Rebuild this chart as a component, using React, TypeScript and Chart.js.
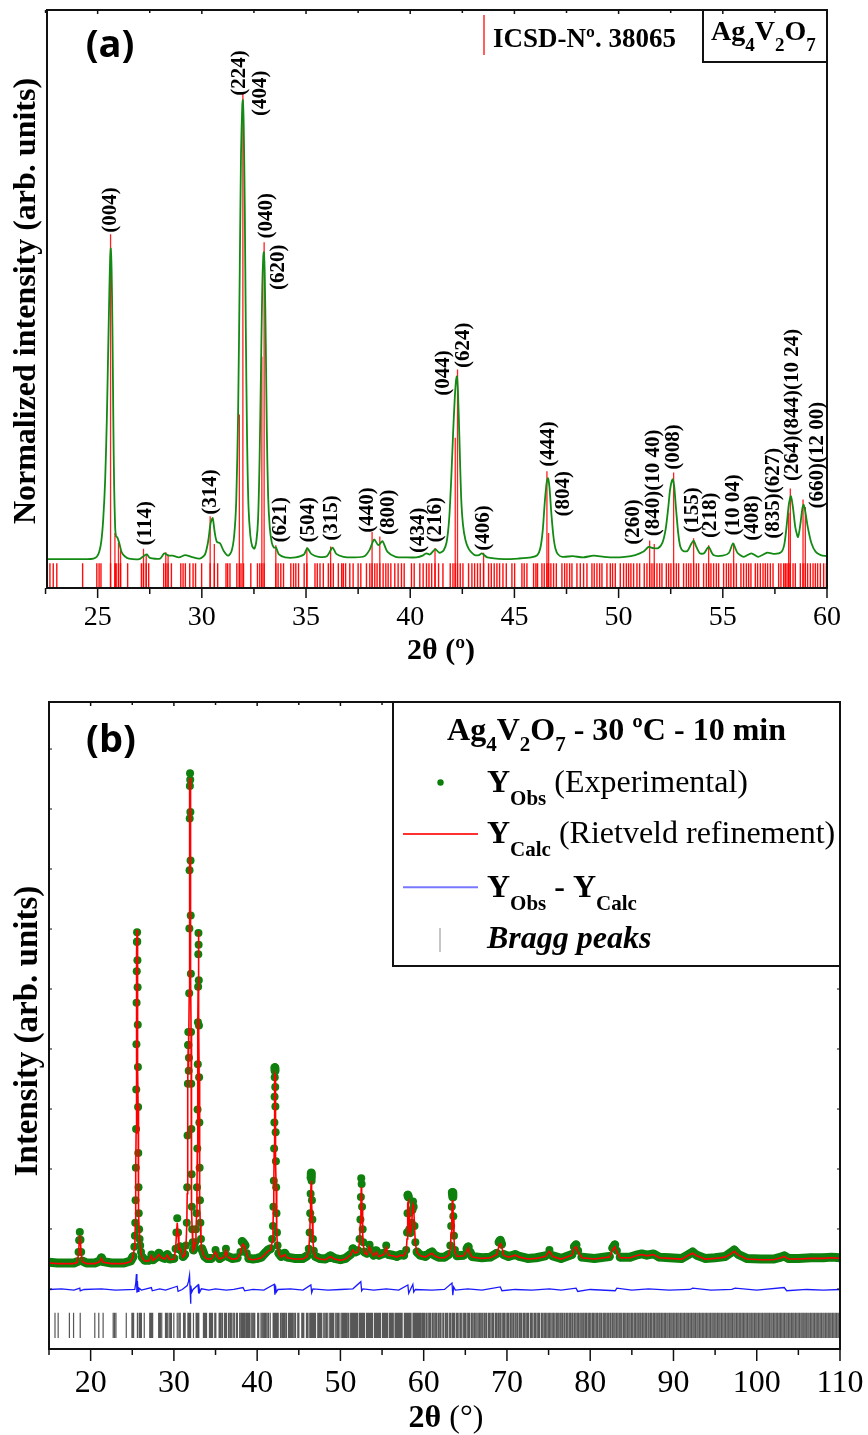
import React, { useEffect, useRef } from 'react';
import { Chart, registerables } from 'chart.js';
Chart.register(...registerables);

const SERIF = '"Liberation Serif", "Times New Roman", serif';
const SANS = '"Open Sans", "Liberation Sans", sans-serif';

// ---------------- Panel (a) data ----------------
const xRangeA = [22.57, 60];
const ticksA = [25, 30, 35, 40, 45, 50, 55, 60];
const minorTicksA = [22.5, 27.5, 32.5, 37.5, 42.5, 47.5, 52.5, 57.5];

// measured (normalized) pattern: [2theta, intensity]
const patternA: [number, number][] = [
  [22.57, 5.0], [23.5, 5.0], [24.5, 5.0], [24.8, 5.1], [24.96, 5.4], [25.08, 6.3], [25.18, 8.2], [25.27, 12],
  [25.36, 18.6], [25.44, 29], [25.5, 40], [25.56, 51], [25.6, 57], [25.63, 58.7], [25.67, 55], [25.71, 45],
  [25.75, 30], [25.79, 18], [25.84, 10.5], [25.88, 9.0], [25.95, 8.7], [26.05, 7.6], [26.15, 6.2],
  [26.3, 5.5], [26.5, 5.1], [27.0, 5.0], [27.2, 5.5], [27.36, 5.8], [27.5, 5.2], [28.0, 5.1], [28.2, 6.0],
  [28.4, 5.6], [28.6, 5.6], [28.9, 5.3], [29.2, 5.7], [29.5, 5.4], [29.9, 5.1], [30.15, 5.8], [30.3, 8.0],
  [30.42, 11.2], [30.52, 12.1], [30.62, 9.6], [30.72, 8.0], [30.88, 7.7], [31.05, 6.4], [31.26, 5.6],
  [31.42, 6.3], [31.55, 9], [31.65, 15], [31.74, 30], [31.82, 55], [31.88, 75], [31.94, 83.5], [31.97, 84.4],
  [32.01, 80], [32.06, 66], [32.11, 45], [32.17, 26], [32.24, 14], [32.33, 9], [32.42, 7.2], [32.52, 6.8],
  [32.62, 8.2], [32.7, 12], [32.77, 22], [32.84, 38], [32.9, 52], [32.95, 57.5], [32.98, 58.1],
  [33.02, 54], [33.07, 42], [33.12, 27], [33.18, 16], [33.26, 10.5], [33.36, 7.8], [33.46, 7.0],
  [33.56, 7.0], [33.7, 5.8], [34.0, 5.3], [34.5, 5.3], [34.9, 5.8], [35.06, 6.9], [35.25, 5.9],
  [35.6, 5.4], [36.0, 5.5], [36.27, 7.0], [36.45, 5.9], [36.8, 5.4], [37.3, 5.3], [37.8, 5.5],
  [38.05, 6.6], [38.27, 8.4], [38.47, 7.4], [38.67, 8.1], [38.9, 6.3], [39.3, 5.4], [39.8, 5.3],
  [40.3, 5.3], [40.6, 5.6], [40.77, 6.0], [40.95, 5.8], [41.2, 6.7], [41.4, 6.1], [41.6, 6.5],
  [41.75, 8], [41.87, 12], [41.97, 19], [42.06, 27], [42.14, 33], [42.2, 36], [42.24, 36.6], [42.29, 34],
  [42.36, 26], [42.44, 16], [42.53, 11], [42.65, 8.3], [42.8, 6.8], [42.95, 6.1], [43.1, 5.7],
  [43.3, 5.7], [43.44, 6.0], [43.7, 5.3], [44.5, 5.0], [45.2, 5.1], [45.8, 5.3], [46.1, 5.7],
  [46.25, 7], [46.36, 10], [46.46, 15], [46.55, 18.3], [46.61, 19.0], [46.68, 17.5], [46.77, 13],
  [46.87, 9], [46.97, 6.8], [47.1, 5.8], [47.3, 5.4], [47.8, 5.5], [48.3, 5.3], [48.8, 5.6], [49.3, 5.4],
  [49.8, 5.3], [50.3, 5.4], [50.8, 5.7], [51.2, 6.3], [51.44, 7.1], [51.66, 6.9], [51.9, 6.9],
  [52.1, 7.8], [52.25, 10], [52.37, 13.5], [52.47, 17], [52.55, 18.5], [52.6, 18.8], [52.67, 17.5],
  [52.76, 13.5], [52.86, 9.5], [52.96, 7.2], [53.1, 6.4], [53.3, 6.4], [53.48, 7.6], [53.6, 8.2],
  [53.72, 7.2], [53.9, 6.0], [54.1, 6.0], [54.32, 7.1], [54.55, 5.7], [55.0, 5.6], [55.3, 6.1],
  [55.49, 7.7], [55.7, 6.1], [56.0, 5.4], [56.37, 6.0], [56.7, 5.4], [57.12, 6.1], [57.5, 5.9],
  [57.8, 6.2], [57.95, 7.5], [58.07, 11], [58.17, 14.5], [58.27, 15.9], [58.37, 13.8], [58.48, 10.5],
  [58.61, 8.8], [58.72, 11], [58.82, 13.8], [58.88, 14.4], [58.96, 13.2], [59.08, 10.5], [59.25, 7.8],
  [59.45, 6.3], [59.7, 5.7], [60.0, 5.5],
];

// reflection positions (ICSD 38065) used for sticks (a) and Bragg marks (b)
const reflections = [
  15.72, 16.10, 17.45, 17.95, 18.75, 20.50, 20.98, 21.50, 22.71, 22.87, 23.04, 24.28, 24.96, 25.07,
  25.16, 25.62, 25.83, 25.89, 26.00, 26.10, 26.44, 27.10, 27.20, 27.33, 27.45, 28.17, 28.27, 28.38,
  28.54, 28.99, 29.10, 29.21, 29.42, 29.58, 29.70, 29.99, 30.40, 30.60, 30.76, 31.16, 31.24, 31.35,
  31.68, 31.80, 31.88, 32.00, 32.35, 32.67, 32.78, 32.88, 32.99, 33.55, 33.66, 33.79, 33.92, 34.27,
  34.40, 34.51, 34.64, 34.91, 35.04, 35.43, 35.54, 35.67, 35.83, 36.07, 36.18, 36.31, 36.55, 36.71,
  36.79, 36.90, 37.10, 37.26, 37.50, 37.63, 37.90, 38.06, 38.17, 38.30, 38.41, 38.54, 38.70, 38.83,
  38.94, 39.07, 39.26, 39.42, 39.58, 39.71, 40.06, 40.19, 40.46, 40.62, 40.78, 40.90, 41.03, 41.19,
  41.36, 41.57, 41.92, 42.05, 42.16, 42.27, 42.40, 42.53, 42.80, 42.96, 43.09, 43.23, 43.36, 43.52,
  43.76, 43.89, 44.03, 44.16, 44.29, 44.45, 44.61, 44.88, 45.01, 45.36, 45.47, 45.60, 45.92, 46.03,
  46.11, 46.32, 46.43, 46.56, 46.64, 46.75, 46.88, 47.01, 47.28, 47.41, 47.52, 47.65, 47.76, 48.00,
  48.16, 48.32, 48.48, 48.72, 48.83, 48.96, 49.09, 49.20, 49.44, 49.60, 49.71, 49.84, 50.08, 50.24,
  50.37, 50.48, 50.59, 50.72, 50.88, 51.01, 51.23, 51.36, 51.49, 51.60, 51.71, 51.84, 51.97, 52.08,
  52.29, 52.40, 52.51, 52.64, 52.77, 52.88, 53.12, 53.25, 53.36, 53.47, 53.60, 53.73, 53.84, 54.08,
  54.21, 54.32, 54.43, 54.56, 54.69, 54.80, 55.04, 55.17, 55.28, 55.39, 55.52, 55.65, 55.87, 56.00,
  56.13, 56.24, 56.35, 56.56, 56.67, 56.80, 56.93, 57.04, 57.15, 57.28, 57.41, 57.68, 57.79, 57.92,
  58.00, 58.08, 58.16, 58.24, 58.37, 58.48, 58.72, 58.85, 58.96, 59.07, 59.20, 59.33, 59.44, 59.55,
  59.68, 59.84, 59.97, 60.10, 60.28, 60.37, 60.55, 60.71, 60.82, 61.02, 61.15, 61.33, 61.48, 61.60,
  61.79, 61.95, 62.08, 62.30, 62.41, 62.62, 62.77, 62.90, 63.12, 63.25, 63.44, 63.58, 63.70, 63.91,
  64.05, 64.22, 64.40, 64.52, 64.73, 64.88, 65.01, 65.20, 65.36, 65.49, 65.70, 65.84, 66.02, 66.15,
  66.31, 66.50, 66.66, 66.80, 66.97, 67.12, 67.30, 67.46, 67.58, 67.79, 67.93, 68.10, 68.27, 68.40,
  68.61, 68.75, 68.92, 69.05, 69.21, 69.40, 69.56, 69.70, 69.88, 70.05, 70.19, 70.38, 70.52, 70.70,
  70.83, 71.01, 71.18, 71.32, 71.51, 71.66, 71.80, 72.00, 72.14, 72.31, 72.47, 72.60, 72.82, 72.95,
  73.11, 73.30, 73.44, 73.62, 73.78, 73.90, 74.12, 74.25, 74.43, 74.58, 74.72, 74.91, 75.06, 75.20,
  75.39, 75.55, 75.68, 75.88, 76.02, 76.17, 76.35, 76.50, 76.66, 76.84, 76.97, 77.15, 77.30, 77.48,
  77.63, 77.80, 77.94, 78.12, 78.28, 78.45, 78.60, 78.77, 78.93, 79.10, 79.25, 79.42, 79.57, 79.75,
  79.90, 80.06, 80.24, 80.38, 80.55, 80.72, 80.87, 81.05, 81.20, 81.36, 81.55, 81.70, 81.86, 82.03,
  82.18, 82.36, 82.50, 82.68, 82.84, 83.00, 83.17, 83.33, 83.50, 83.66, 83.81, 84.00, 84.15, 84.31,
  84.48, 84.64, 84.80, 84.97, 85.12, 85.30, 85.45, 85.62, 85.78, 85.95, 86.10, 86.27, 86.43, 86.60,
  86.75, 86.93, 87.08, 87.25, 87.40, 87.58, 87.73, 87.90, 88.06, 88.23, 88.38, 88.55, 88.71, 88.88,
  89.03, 89.20, 89.36, 89.53, 89.69, 89.85, 90.02, 90.18, 90.35, 90.51, 90.67, 90.84, 91.00, 91.17,
  91.33, 91.50, 91.66, 91.82, 91.99, 92.15, 92.32, 92.48, 92.64, 92.81, 92.97, 93.14, 93.30, 93.47,
  93.63, 93.80, 93.96, 94.12, 94.29, 94.45, 94.62, 94.78, 94.95, 95.11, 95.28, 95.44, 95.60, 95.77,
  95.93, 96.10, 96.26, 96.43, 96.59, 96.76, 96.92, 97.08, 97.25, 97.41, 97.58, 97.74, 97.91, 98.07,
  98.24, 98.40, 98.56, 98.73, 98.89, 99.06, 99.22, 99.39, 99.55, 99.72, 99.88, 100.04, 100.21, 100.37,
  100.54, 100.70, 100.87, 101.03, 101.20, 101.36, 101.52, 101.69, 101.85, 102.02, 102.18, 102.35,
  102.51, 102.68, 102.84, 103.00, 103.17, 103.33, 103.50, 103.66, 103.83, 103.99, 104.16, 104.32,
  104.48, 104.65, 104.81, 104.98, 105.14, 105.31, 105.47, 105.64, 105.80, 105.96, 106.13, 106.29,
  106.46, 106.62, 106.79, 106.95, 107.12, 107.28, 107.44, 107.61, 107.77, 107.94, 108.10, 108.27,
  108.43, 108.60, 108.76, 108.92, 109.09, 109.25, 109.42, 109.58, 109.75, 109.91,
];
const stickFloorA = 4.3;
// taller ICSD sticks: [2theta, height]
const tallSticksA: [number, number][] = [
  [25.62, 61.2], [25.83, 9.5], [26.0, 7.8], [26.1, 6.5], [27.2, 6.8], [27.33, 5.8], [28.27, 6.2],
  [28.38, 5.8], [30.4, 12.4], [30.6, 7.6], [31.8, 30], [31.97, 85.6], [32.88, 40], [32.99, 59.8],
  [33.55, 7.4], [35.04, 7.0], [36.18, 7.2], [38.17, 9.7], [38.54, 8.9], [41.19, 6.9], [42.16, 26],
  [42.27, 37.8], [43.52, 6.1], [46.56, 20.2], [46.64, 9.5], [51.49, 8.2], [51.71, 7.6],
  [52.64, 20.0], [53.6, 8.6], [54.32, 7.4], [55.52, 7.8], [58.16, 13], [58.24, 17.2],
  [58.85, 15.3], [58.96, 14],
];
// hkl labels: [text, 2theta (centre), intensity (centre)]
const hklLabelsA: [string, number, number][] = [
  ['(004)', 25.63, 65.4], ['(224)', 31.83, 89.1], ['(404)', 32.8, 85.6], ['(040)', 33.13, 64.4],
  ['(620)', 33.66, 55.5], ['(114)', 27.32, 11.2], ['(314)', 30.44, 16.6], ['(621)', 33.8, 11.8],
  ['(504)', 35.1, 11.8], ['(315)', 36.25, 12.1], ['(440)', 37.93, 13.5], ['(800)', 38.94, 13.1],
  ['(434)', 40.38, 10.0], ['(216)', 41.2, 11.8], ['(044)', 41.58, 37.2], ['(624)', 42.54, 42.0],
  ['(406)', 43.5, 10.4], ['(444)', 46.62, 24.9], ['(804)', 47.34, 16.3], ['(260)', 50.7, 11.4],
  ['(840)(10 40)', 51.66, 18.2], ['(008)', 52.62, 24.4], ['(155)', 53.53, 13.5],
  ['(218)', 54.4, 12.6], ['(10 04)', 55.5, 14.4], ['(408)', 56.41, 12.1],
  ['(835)(627)', 57.42, 16.4], ['(264)(844)(10 24)', 58.33, 31.7], ['(660)(12 00)', 59.53, 23.0],
];

// ---------------- Panel (b) data ----------------
const xRangeB = [15, 110];
const ticksB = [20, 30, 40, 50, 60, 70, 80, 90, 100, 110];
const minorTicksB = [15, 25, 35, 45, 55, 65, 75, 85, 95, 105];
const sideTicksB = [9.27, 18.55, 27.82, 37.09, 46.37, 55.64, 64.91, 74.19, 83.46, 92.73];

// [2theta, Y_obs, Y_calc]
const rowsB: [number, number, number][] = [
  [15.0, 13.4, 13.3], [16.0, 13.3, 13.2], [17.0, 13.3, 13.2], [18.0, 13.3, 13.2], [18.4, 13.5, 13.4],
  [18.55, 15.0, 14.8], [18.62, 16.8, 16.4], [18.7, 18.1, 17.6], [18.78, 16.9, 16.6], [18.86, 15.0, 14.8],
  [19.0, 13.6, 13.5], [19.5, 13.3, 13.2], [20.5, 13.3, 13.2], [21.1, 13.6, 13.5], [21.3, 14.1, 14.0],
  [21.5, 13.5, 13.4], [22.5, 13.3, 13.2], [24.0, 13.3, 13.2], [24.8, 13.6, 13.5], [25.1, 14.3, 14.2],
  [25.25, 15.8, 15.6], [25.32, 17.5, 17.2], [25.36, 19.5, 19.2], [25.40, 23.0, 22.6], [25.43, 28.0, 27.4],
  [25.46, 34.0, 33.4], [25.48, 40.1, 39.2], [25.50, 47.1, 46.0], [25.52, 53.5, 52.5], [25.54, 58.4, 57.5],
  [25.56, 62.9, 61.5], [25.58, 64.4, 64.8], [25.60, 63.0, 63.5], [25.62, 60.1, 60.0], [25.64, 55.9, 55.5],
  [25.66, 50.1, 49.8], [25.68, 43.6, 43.6], [25.70, 37.4, 37.6], [25.72, 30.3, 31.0], [25.75, 25.0, 25.5],
  [25.78, 21.0, 21.2], [25.82, 18.5, 18.6], [25.88, 17.0, 17.0], [25.95, 16.0, 15.9], [26.05, 15.0, 14.9],
  [26.2, 14.2, 14.1], [26.5, 13.7, 13.6], [27.0, 13.7, 13.6], [27.3, 14.6, 14.4], [27.5, 13.8, 13.7],
  [27.9, 14.2, 14.1], [28.2, 14.8, 14.6], [28.5, 14.2, 14.1], [28.9, 14.0, 13.9], [29.2, 14.6, 14.5],
  [29.5, 13.9, 13.8], [30.0, 14.0, 13.9], [30.2, 15.5, 15.3], [30.3, 18.0, 17.6], [30.4, 20.2, 19.5],
  [30.5, 18.0, 17.8], [30.6, 15.5, 15.4], [30.75, 15.8, 15.5], [30.9, 15.2, 15.0], [31.1, 14.3, 14.2],
  [31.3, 14.6, 14.5], [31.45, 16.0, 15.8], [31.55, 19.5, 19.2], [31.60, 25.0, 24.0], [31.64, 33.0, 32.0],
  [31.68, 41.0, 40.5], [31.71, 47.0, 46.5], [31.73, 49.0, 48.8], [31.75, 47.0, 47.0], [31.78, 43.0, 43.5],
  [31.81, 45.0, 45.5], [31.84, 55.0, 55.0], [31.86, 65.0, 64.5], [31.88, 74.0, 74.0], [31.90, 82.0, 82.5],
  [31.92, 87.0, 87.5], [31.94, 89.0, 88.3], [31.96, 88.0, 87.5], [31.98, 83.0, 83.0], [32.00, 75.5, 75.5],
  [32.02, 67.0, 67.0], [32.04, 58.0, 58.5], [32.06, 49.0, 49.5], [32.08, 41.0, 41.0], [32.10, 34.0, 33.5],
  [32.13, 27.0, 26.5], [32.16, 22.0, 21.5], [32.20, 18.5, 18.3], [32.26, 16.5, 16.3], [32.34, 15.3, 15.2],
  [32.45, 15.6, 15.5], [32.55, 16.5, 16.4], [32.65, 18.5, 18.3], [32.72, 21.0, 20.5], [32.77, 25.0, 24.5],
  [32.81, 31.0, 30.5], [32.84, 37.0, 37.0], [32.87, 44.0, 44.0], [32.89, 50.5, 50.0], [32.91, 56.0, 56.0],
  [32.93, 61.0, 61.0], [32.95, 64.3, 64.6], [32.97, 62.5, 63.0], [32.99, 57.0, 57.5], [33.01, 50.0, 50.5],
  [33.03, 42.0, 42.5], [33.06, 35.0, 35.0], [33.09, 28.0, 28.0], [33.13, 23.0, 22.5], [33.18, 19.5, 19.0],
  [33.25, 17.0, 16.8], [33.35, 15.5, 15.3], [33.5, 15.0, 14.8], [33.7, 14.3, 14.2], [34.0, 14.0, 13.9],
  [34.5, 14.0, 13.9], [35.0, 15.3, 15.0], [35.2, 14.5, 14.3], [35.5, 14.0, 13.9], [36.0, 14.4, 14.2],
  [36.25, 15.5, 15.2], [36.5, 14.3, 14.2], [37.0, 14.0, 13.9], [37.6, 14.1, 14.0], [38.0, 15.0, 14.8],
  [38.2, 16.6, 16.0], [38.35, 16.4, 16.2], [38.55, 16.0, 15.6], [38.75, 14.8, 14.6], [39.0, 14.0, 13.9],
  [39.5, 13.9, 13.8], [40.0, 14.0, 13.9], [40.5, 14.2, 14.1], [41.0, 14.9, 14.7], [41.3, 15.3, 15.1],
  [41.6, 15.5, 15.3], [41.8, 17.0, 16.5], [41.9, 19.0, 18.8], [41.95, 22.0, 21.5], [42.0, 26.0, 25.5],
  [42.04, 31.0, 30.5], [42.07, 35.0, 35.0], [42.09, 39.0, 39.0], [42.11, 42.0, 41.5], [42.13, 43.5, 42.5],
  [42.15, 43.0, 42.3], [42.17, 40.5, 40.5], [42.19, 37.5, 37.5], [42.22, 33.5, 33.5], [42.25, 29.0, 29.0],
  [42.28, 25.0, 25.0], [42.32, 21.0, 21.0], [42.38, 18.0, 17.8], [42.45, 16.0, 15.8], [42.6, 14.8, 14.7],
  [42.9, 14.3, 14.2], [43.3, 14.8, 14.6], [43.6, 14.2, 14.1], [44.5, 14.0, 13.9], [45.5, 14.0, 13.9],
  [46.0, 14.4, 14.3], [46.2, 15.5, 15.2], [46.3, 18.0, 17.5], [46.37, 21.0, 20.0], [46.42, 24.0, 23.0],
  [46.47, 26.5, 25.5], [46.5, 27.2, 26.0], [46.54, 26.0, 25.0], [46.58, 23.0, 22.5], [46.63, 20.0, 19.5],
  [46.7, 17.0, 16.8], [46.8, 15.2, 15.0], [47.0, 14.3, 14.2], [47.5, 14.0, 13.9], [48.2, 13.9, 13.8],
  [48.8, 14.4, 14.3], [49.3, 14.0, 13.9], [50.0, 13.8, 13.7], [50.6, 14.0, 13.9], [51.2, 14.6, 14.5],
  [51.5, 15.5, 15.3], [51.8, 15.0, 14.8], [52.1, 15.2, 15.0], [52.3, 17.0, 16.5], [52.4, 20.0, 19.5],
  [52.46, 23.5, 22.0], [52.5, 26.4, 25.0], [52.55, 25.5, 24.3], [52.6, 22.0, 21.5], [52.67, 18.5, 18.0],
  [52.75, 16.5, 16.0], [52.9, 15.0, 14.8], [53.2, 14.8, 14.6], [53.5, 16.1, 15.8], [53.7, 15.3, 15.0],
  [54.0, 14.5, 14.4], [54.3, 15.2, 15.0], [54.6, 14.5, 14.3], [55.2, 14.8, 14.6], [55.5, 16.0, 15.7],
  [55.8, 14.6, 14.5], [56.3, 14.5, 14.4], [56.8, 14.3, 14.2], [57.2, 14.6, 14.5], [57.6, 14.5, 14.4],
  [57.9, 15.3, 15.1], [58.0, 18.0, 17.0], [58.06, 21.0, 20.0], [58.1, 23.8, 22.5], [58.16, 23.5, 22.8],
  [58.24, 21.0, 20.5], [58.32, 18.5, 18.2], [58.4, 18.0, 17.8], [58.55, 19.5, 19.0], [58.65, 21.5, 21.5],
  [58.72, 22.8, 22.3], [58.8, 22.0, 21.8], [58.9, 19.0, 18.8], [59.0, 16.5, 16.3], [59.2, 15.0, 14.9],
  [59.6, 14.5, 14.4], [60.2, 14.3, 14.2], [60.7, 14.8, 14.6], [61.0, 15.0, 14.8], [61.3, 14.5, 14.4],
  [61.8, 14.2, 14.1], [62.5, 14.2, 14.1], [63.0, 14.6, 14.5], [63.2, 16.0, 15.5], [63.3, 19.0, 18.0],
  [63.38, 22.0, 20.5], [63.44, 24.2, 23.0], [63.5, 23.5, 22.5], [63.56, 20.5, 20.0], [63.64, 17.5, 17.0],
  [63.75, 15.3, 15.0], [64.0, 14.4, 14.3], [64.8, 14.5, 14.4], [65.2, 15.5, 15.2], [65.35, 15.8, 15.6],
  [65.55, 15.0, 14.8], [65.8, 14.3, 14.2], [67.0, 14.1, 14.0], [68.0, 14.2, 14.1], [68.8, 14.8, 14.6],
  [69.05, 16.5, 16.0], [69.2, 16.8, 16.3], [69.35, 16.2, 16.0], [69.6, 14.6, 14.5], [70.2, 14.3, 14.2],
  [71.0, 14.6, 14.5], [71.5, 14.3, 14.2], [72.5, 14.0, 13.9], [73.5, 14.1, 14.0], [74.6, 14.4, 14.3],
  [75.1, 15.3, 15.1], [75.5, 14.4, 14.3], [76.5, 14.0, 13.9], [77.8, 14.6, 14.5], [78.1, 15.8, 15.6],
  [78.3, 16.1, 15.8], [78.55, 15.2, 15.0], [79.0, 14.2, 14.1], [80.5, 14.0, 13.9], [82.3, 14.3, 14.2],
  [82.7, 15.6, 15.3], [82.95, 16.1, 15.8], [83.2, 15.2, 15.0], [83.6, 14.2, 14.1], [84.8, 14.2, 14.1],
  [85.5, 14.5, 14.4], [86.2, 14.7, 14.6], [86.8, 14.5, 14.4], [87.6, 14.7, 14.6], [88.3, 14.2, 14.1],
  [89.5, 14.1, 14.0], [91.0, 14.0, 13.9], [91.8, 14.6, 14.5], [92.3, 15.0, 14.8], [92.8, 14.5, 14.4],
  [93.8, 14.0, 13.9], [95.0, 14.1, 14.0], [96.2, 14.3, 14.2], [96.9, 14.9, 14.7], [97.3, 15.3, 15.1],
  [97.8, 14.6, 14.5], [98.8, 14.0, 13.9], [100.5, 13.9, 13.8], [102.0, 13.9, 13.8], [102.9, 14.2, 14.1],
  [103.3, 14.4, 14.3], [103.8, 14.0, 13.9], [105.0, 14.0, 13.9], [106.5, 14.1, 14.0], [108.0, 14.1, 14.0],
  [109.0, 14.2, 14.1], [110.0, 14.1, 14.0],
];

// difference curve (offset): [2theta, value]
const diffB: [number, number][] = [
  [15, 9.2], [16.5, 9.3], [18.0, 9.1], [18.7, 9.4], [18.75, 9.0], [19.2, 9.2], [21.3, 9.3], [23, 9.1],
  [25.3, 9.2], [25.42, 10.2], [25.5, 11.6], [25.56, 8.7], [25.62, 10.5], [25.7, 8.9], [25.8, 9.4],
  [26.1, 9.1], [27.3, 9.5], [27.4, 9.0], [28.3, 9.3], [29.0, 9.1], [30.4, 9.7], [30.5, 8.9], [31.0, 9.2],
  [31.6, 9.8], [31.75, 10.4], [31.88, 11.4], [31.95, 9.0], [32.0, 7.0], [32.05, 9.8], [32.15, 8.8],
  [32.3, 9.2], [32.9, 9.9], [32.95, 8.6], [33.0, 10.0], [33.1, 8.8], [33.3, 9.3], [34.2, 9.1], [35.0, 9.3],
  [36.3, 9.1], [37.2, 9.2], [38.3, 9.5], [38.5, 9.0], [39.5, 9.2], [40.8, 9.1], [42.05, 10.0], [42.13, 8.4],
  [42.2, 9.8], [42.3, 8.8], [42.5, 9.2], [44.0, 9.3], [45.5, 9.1], [46.45, 9.9], [46.55, 8.7], [46.7, 9.3],
  [48.5, 9.1], [50.0, 9.2], [51.5, 9.3], [52.45, 10.4], [52.55, 9.0], [52.7, 9.3], [54.0, 9.1], [55.5, 9.3],
  [57.0, 9.1], [58.1, 9.9], [58.2, 8.6], [58.7, 10.0], [58.8, 8.8], [59.0, 9.2], [61.0, 9.1], [62.5, 9.2],
  [63.4, 10.2], [63.5, 8.3], [63.6, 9.6], [63.8, 9.1], [65.3, 9.3], [67.0, 9.1], [69.2, 9.6], [69.4, 9.0],
  [71.0, 9.2], [73.0, 9.1], [75.1, 9.3], [76.5, 9.1], [78.3, 9.4], [78.5, 8.9], [80.0, 9.2], [83.0, 9.0],
  [83.2, 9.4], [85.0, 9.1], [87.0, 9.3], [89.5, 9.1], [92.0, 9.2], [92.3, 9.4], [94.5, 9.1], [97.0, 9.2],
  [97.4, 9.4], [100.0, 9.1], [103.3, 9.5], [103.6, 9.0], [106.0, 9.2], [108.0, 9.1], [110, 9.2],
];
const braggLowB = 1.7;
const braggHighB = 5.6;

// ---------------- helpers ----------------
function stickData(list: [number, number, number][]) {
  const out: { x: number; y: number | null }[] = [];
  for (const [x, lo, hi] of list) {
    out.push({ x, y: lo }, { x, y: hi }, { x, y: null });
  }
  return out;
}

type Part = [string, boolean];
function drawRun(ctx: CanvasRenderingContext2D, x: number, y: number, parts: Part[], mainFont: string,
  subFont: string, subDy: number, align: 'left' | 'center' = 'left') {
  ctx.textAlign = 'left';
  ctx.textBaseline = 'alphabetic';
  let total = 0;
  for (const [t, s] of parts) { ctx.font = s ? subFont : mainFont; total += ctx.measureText(t).width; }
  let cx = align === 'center' ? x - total / 2 : x;
  for (const [t, s] of parts) {
    ctx.font = s ? subFont : mainFont;
    ctx.fillText(t, cx, s ? y + subDy : y);
    cx += ctx.measureText(t).width;
  }
  return cx;
}

function seg(ctx: CanvasRenderingContext2D, x1: number, y1: number, x2: number, y2: number) {
  ctx.beginPath(); ctx.moveTo(x1, y1); ctx.lineTo(x2, y2); ctx.stroke();
}

const panelAPlugin = {
  id: 'panelA',
  afterDraw(chart: any) {
    const { ctx, chartArea: a, scales } = chart;
    const xs = scales.x, ys = scales.y;
    ctx.save();
    ctx.strokeStyle = '#111';
    ctx.fillStyle = '#000';
    ctx.lineWidth = 2;
    ctx.strokeRect(a.left, a.top, a.right - a.left, a.bottom - a.top);
    ctx.lineWidth = 1.5;
    for (const v of ticksA) {
      const px = xs.getPixelForValue(v);
      seg(ctx, px, a.bottom, px, a.bottom + 10);
      seg(ctx, px, a.top, px, a.top + 4);
    }
    for (const v of minorTicksA) {
      const px = xs.getPixelForValue(v);
      seg(ctx, px, a.bottom, px, a.bottom + 6);
      seg(ctx, px, a.top, px, a.top + 3);
    }
    ctx.font = `28px ${SERIF}`;
    ctx.textAlign = 'center';
    ctx.textBaseline = 'middle';
    for (const v of ticksA) ctx.fillText(String(v), xs.getPixelForValue(v), a.bottom + 30);
    ctx.font = `bold 30px ${SERIF}`;
    ctx.fillText('2θ (º)', (a.left + a.right) / 2 + 4, a.bottom + 63);
    // y title
    ctx.save();
    ctx.translate(27, (a.top + a.bottom) / 2 + 2);
    ctx.rotate(-Math.PI / 2);
    ctx.font = `bold 32px ${SERIF}`;
    ctx.fillText('Normalized intensity (arb. units)', 0, 0);
    ctx.restore();
    // hkl labels
    ctx.font = `bold 21px ${SERIF}`;
    for (const [t, x, y] of hklLabelsA) {
      ctx.save();
      ctx.translate(xs.getPixelForValue(x), ys.getPixelForValue(y));
      ctx.rotate(-Math.PI / 2);
      ctx.fillText(t, 0, 0);
      ctx.restore();
    }
    // (a)
    ctx.font = `bold 38px ${SANS}`;
    ctx.textAlign = 'center';
    ctx.textBaseline = 'middle';
    ctx.fillText('(a)', a.left + 63, a.top + 36);
    // legend: ICSD stick
    ctx.strokeStyle = '#ff2a2a';
    ctx.lineWidth = 1.5;
    seg(ctx, 484, a.top + 5, 484, a.top + 45);
    ctx.fillStyle = '#000';
    ctx.font = `bold 27px ${SERIF}`;
    ctx.textAlign = 'left';
    ctx.textBaseline = 'alphabetic';
    ctx.fillText('ICSD-Nº. 38065', 493, a.top + 37);
    // formula box
    ctx.strokeStyle = '#111';
    ctx.lineWidth = 2;
    ctx.strokeRect(703, a.top, a.right - 703, 52);
    drawRun(ctx, 711, a.top + 30, [['Ag', false], ['4', true], ['V', false], ['2', true], ['O', false], ['7', true]],
      `bold 28px ${SERIF}`, `bold 19px ${SERIF}`, 11);
    ctx.restore();
  },
};

const panelBPlugin = {
  id: 'panelB',
  afterDraw(chart: any) {
    const { ctx, chartArea: a, scales } = chart;
    const xs = scales.x, ys = scales.y;
    ctx.save();
    ctx.strokeStyle = '#111';
    ctx.fillStyle = '#000';
    ctx.lineWidth = 2;
    ctx.strokeRect(a.left, a.top, a.right - a.left, a.bottom - a.top);
    ctx.lineWidth = 1.5;
    for (const v of ticksB) {
      const px = xs.getPixelForValue(v);
      seg(ctx, px, a.bottom, px, a.bottom + 12);
      seg(ctx, px, a.top, px, a.top + 4);
    }
    for (const v of minorTicksB) {
      const px = xs.getPixelForValue(v);
      seg(ctx, px, a.bottom, px, a.bottom + 6);
      seg(ctx, px, a.top, px, a.top + 3);
    }
    ctx.lineWidth = 1;
    for (const v of sideTicksB) {
      const py = ys.getPixelForValue(v);
      seg(ctx, a.left, py, a.left + 3, py);
      seg(ctx, a.right, py, a.right - 3, py);
    }
    ctx.font = `32px ${SERIF}`;
    ctx.textAlign = 'center';
    ctx.textBaseline = 'middle';
    for (const v of ticksB) ctx.fillText(String(v), xs.getPixelForValue(v), a.bottom + 35);
    // x title: bold "2θ" + regular " (°)"
    const titleParts: [string, string][] = [['2θ', `bold 32px ${SERIF}`], [' (°)', `32px ${SERIF}`]];
    let tw = 0;
    for (const [t, f] of titleParts) { ctx.font = f; tw += ctx.measureText(t).width; }
    let tx = 446 - tw / 2;
    ctx.textAlign = 'left';
    for (const [t, f] of titleParts) { ctx.font = f; ctx.fillText(t, tx, a.bottom + 70); tx += ctx.measureText(t).width; }
    // y title
    ctx.save();
    ctx.translate(28, 361);
    ctx.rotate(-Math.PI / 2);
    ctx.textAlign = 'center';
    ctx.font = `bold 33px ${SERIF}`;
    ctx.fillText('Intensity (arb. units)', 0, 0);
    ctx.restore();
    // (b)
    ctx.font = `bold 38px ${SANS}`;
    ctx.textAlign = 'center';
    ctx.textBaseline = 'middle';
    ctx.fillText('(b)', a.left + 62, a.top + 39);
    // legend box
    const lx = 393, ly = a.top, lr = a.right, lb = 296;
    ctx.fillStyle = '#fff';
    ctx.fillRect(lx, ly, lr - lx, lb - ly);
    ctx.strokeStyle = '#111';
    ctx.lineWidth = 2;
    ctx.strokeRect(lx, ly, lr - lx, lb - ly);
    ctx.fillStyle = '#000';
    const B32 = `bold 32px ${SERIF}`, B21 = `bold 21px ${SERIF}`, R32 = `32px ${SERIF}`;
    drawRun(ctx, (lx + lr) / 2, 70, [['Ag', false], ['4', true], ['V', false], ['2', true], ['O', false], ['7', true],
      [' - 30 ºC - 10 min', false]], B32, B21, 11, 'center');
    // row 1
    ctx.fillStyle = 'rgb(10,125,10)';
    ctx.beginPath(); ctx.arc(440.5, 112.5, 3.2, 0, Math.PI * 2); ctx.fill();
    ctx.fillStyle = '#000';
    let ex = drawRun(ctx, 487, 121.5, [['Y', false], ['Obs', true]], B32, B21, 13);
    ctx.font = R32; ctx.fillText(' (Experimental)', ex, 121.5);
    // row 2
    ctx.strokeStyle = '#ff3030'; ctx.lineWidth = 1.8;
    seg(ctx, 403, 164, 478, 164);
    ex = drawRun(ctx, 487, 173, [['Y', false], ['Calc', true]], B32, B21, 13);
    ctx.font = R32; ctx.fillText(' (Rietveld refinement)', ex, 173);
    // row 3
    ctx.strokeStyle = '#7878ff'; ctx.lineWidth = 2;
    seg(ctx, 403, 217.3, 478, 217.3);
    drawRun(ctx, 487, 226.7, [['Y', false], ['Obs', true], [' - Y', false], ['Calc', true]], B32, B21, 13);
    // row 4
    ctx.strokeStyle = '#a0a0a0'; ctx.lineWidth = 1.2;
    seg(ctx, 440, 258, 440, 282);
    ctx.font = `bold italic 32px ${SERIF}`;
    ctx.textAlign = 'left';
    ctx.textBaseline = 'alphabetic';
    ctx.fillText('Bragg peaks', 487, 278);
    ctx.restore();
  },
};

export default function App() {
  const refA = useRef<HTMLCanvasElement>(null);
  const refB = useRef<HTMLCanvasElement>(null);

  useEffect(() => {
    const sticksA: [number, number, number][] = reflections
      .filter((r) => r >= xRangeA[0] && r <= xRangeA[1])
      .map((r) => [r, 0, stickFloorA]);
    const tallA: [number, number, number][] = tallSticksA.map(([x, h]) => [x, 0, h]);

    const chartA = new Chart(refA.current!, {
      type: 'line',
      data: {
        datasets: [
          {
            data: patternA.map(([x, y]) => ({ x, y })),
            borderColor: '#138a13',
            borderWidth: 1.8,
            pointRadius: 0,
            tension: 0.25,
            order: 0,
          },
          {
            data: stickData(sticksA),
            borderColor: 'rgba(255,0,0,0.95)',
            borderWidth: 1.4,
            pointRadius: 0,
            spanGaps: false,
            order: 1,
          },
          {
            data: stickData(tallA),
            borderColor: 'rgba(255,20,20,0.95)',
            borderWidth: 1.3,
            pointRadius: 0,
            spanGaps: false,
            order: 2,
          },
        ],
      } as any,
      options: {
        animation: false,
        responsive: false,
        maintainAspectRatio: false,
        layout: { padding: { left: 47, right: 41, top: 10, bottom: 82 } },
        scales: {
          x: { type: 'linear', min: xRangeA[0], max: xRangeA[1], display: false },
          y: { type: 'linear', min: 0, max: 100, display: false },
        },
        plugins: { legend: { display: false }, tooltip: { enabled: false } },
      },
      plugins: [panelAPlugin],
    } as any);

    const GREEN = 'rgb(14,128,14)';
    const chartB = new Chart(refB.current!, {
      type: 'line',
      data: {
        datasets: [
          {
            data: rowsB.map(([x, , c]) => ({ x, y: c })),
            borderColor: '#ff0000',
            borderWidth: 1.6,
            pointRadius: 0,
            tension: 0,
            order: 0,
          },
          {
            data: rowsB.map(([x, o]) => ({ x, y: o })),
            borderColor: GREEN,
            borderWidth: 9,
            borderCapStyle: 'round',
            borderJoinStyle: 'round',
            pointRadius: 4,
            pointBackgroundColor: GREEN,
            pointBorderWidth: 0,
            tension: 0,
            segment: {
              borderColor: (c: any) => (Math.abs(c.p1.y - c.p0.y) > 5 ? 'rgba(0,0,0,0)' : GREEN),
            },
            order: 1,
          },
          {
            data: diffB.map(([x, y]) => ({ x, y })),
            borderColor: '#1a1aff',
            borderWidth: 1.3,
            pointRadius: 0,
            tension: 0,
            order: 2,
          },
          {
            data: stickData(reflections.filter((r) => r >= xRangeB[0] && r <= xRangeB[1])
              .map((r) => [r, braggLowB, braggHighB] as [number, number, number])),
            borderColor: 'rgba(45,45,45,0.8)',
            borderWidth: 1.2,
            pointRadius: 0,
            spanGaps: false,
            order: 3,
          },
        ],
      } as any,
      options: {
        animation: false,
        responsive: false,
        maintainAspectRatio: false,
        layout: { padding: { left: 49, right: 28, top: 32, bottom: 86 } },
        scales: {
          x: { type: 'linear', min: xRangeB[0], max: xRangeB[1], display: false },
          y: { type: 'linear', min: 0, max: 100, display: false },
        },
        plugins: { legend: { display: false }, tooltip: { enabled: false } },
      },
      plugins: [panelBPlugin],
    } as any);

    return () => {
      chartA.destroy();
      chartB.destroy();
    };
  }, []);

  return (
    <div style={{ position: 'absolute', left: 0, top: 0, width: 868, height: 1435, background: '#fff' }}>
      <canvas ref={refA} width={868} height={670} style={{ position: 'absolute', left: 0, top: 0, width: 868, height: 670 }} />
      <canvas ref={refB} width={868} height={765} style={{ position: 'absolute', left: 0, top: 670, width: 868, height: 765 }} />
    </div>
  );
}
